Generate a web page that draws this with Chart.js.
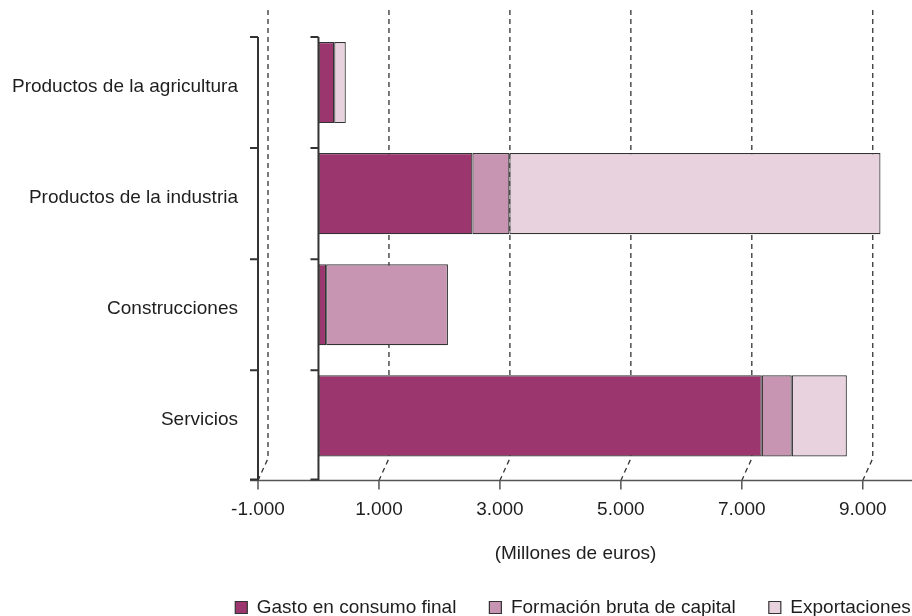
<!DOCTYPE html>
<html>
<head>
<meta charset="utf-8">
<title>Demanda final por productos</title>
<script src="https://cdn.jsdelivr.net/npm/chart.js@4.4.0/dist/chart.umd.min.js"></script>
<style>
    html, body { margin: 0; padding: 0; background: #fff; overflow: hidden; }
    #wrap { width: 1146px; height: 627px; }
</style>
</head>
<body>
<div id="wrap"><canvas id="chart" width="1146" height="627"></canvas></div>
<script>
// Data (millones de euros)
const categories = ['Productos de la agricultura', 'Productos de la industria', 'Construcciones', 'Servicios'];
const gastoConsumo = [260, 2545, 127, 7330];
const formacionCapital = [0, 612, 2014, 496];
const exportaciones = [192, 6136, 0, 911];
const xTicks = [-1000, 1000, 3000, 5000, 7000, 9000];
const xMin = -1000;
const xMax = 9500;

const FONT = 'Liberation Sans, Arial, Helvetica, sans-serif';
const INK = '#1e1e1e';

// 1.000 style thousands separator
function formatMiles(v) {
    const s = String(Math.abs(v)).replace(/\B(?=(\d{3})+(?!\d))/g, '.');
    return (v < 0 ? '-' : '') + s;
}

// Pseudo 3D frame: back grid lines, floor, side walls
const depthPlugin = {
    id: 'depth',
    beforeDatasetsDraw(chart) {
        const { ctx, chartArea, scales: { x } } = chart;
        const floor = chartArea.bottom + 9;
        const back = floor - 22;
        const top = chartArea.top - 17;
        ctx.save();
        ctx.strokeStyle = '#333';
        ctx.lineWidth = 1.3;
        ctx.setLineDash([5, 4]);
        xTicks.forEach(v => {
            const px = x.getPixelForValue(v);
            ctx.beginPath();
            ctx.moveTo(px + 10, top);
            ctx.lineTo(px + 10, back);
            ctx.lineTo(px, floor);
            ctx.stroke();
        });
        ctx.restore();
    },
    afterDatasetsDraw(chart) {
        const { ctx, chartArea, scales: { x, y } } = chart;
        const floor = chartArea.bottom + 9;
        const left = x.getPixelForValue(xMin);
        const zero = x.getPixelForValue(0);
        const bounds = [];
        for (let i = 0; i <= categories.length; i++) {
            bounds.push(Math.min(y.getPixelForValue(i - 0.5) + 10, floor - 1));
        }
        ctx.save();
        // floor line + ticks
        ctx.strokeStyle = '#555';
        ctx.lineWidth = 1.5;
        ctx.beginPath();
        ctx.moveTo(left - 8, floor);
        ctx.lineTo(chart.width, floor);
        xTicks.forEach(v => {
            const px = x.getPixelForValue(v);
            ctx.moveTo(px, floor);
            ctx.lineTo(px, floor + 9);
        });
        ctx.stroke();
        // two walls with category ticks
        ctx.strokeStyle = '#333';
        ctx.lineWidth = 2;
        [left, zero].forEach(px => {
            ctx.beginPath();
            ctx.moveTo(px, bounds[0]);
            ctx.lineTo(px, floor);
            bounds.forEach(by => {
                ctx.moveTo(px - 8, by);
                ctx.lineTo(px, by);
            });
            ctx.stroke();
        });
        ctx.restore();
    }
};

const barStyle = {
    borderColor: '#333',
    borderWidth: 1.2,
    borderSkipped: false,
    barPercentage: 0.73,
    categoryPercentage: 1
};

new Chart(document.getElementById('chart'), {
    type: 'bar',
    data: {
        labels: categories,
        datasets: [
            { label: 'Gasto en consumo final', data: gastoConsumo, backgroundColor: '#9b376e', ...barStyle },
            { label: 'Formación bruta de capital', data: formacionCapital, backgroundColor: '#c795b2', ...barStyle },
            { label: 'Exportaciones', data: exportaciones, backgroundColor: '#e8d2de', ...barStyle }
        ]
    },
    options: {
        indexAxis: 'y',
        responsive: false,
        animation: false,
        layout: { padding: { top: 27, left: 0, right: 0, bottom: 0 } },
        plugins: {
            legend: {
                position: 'bottom',
                labels: {
                    color: INK,
                    font: { size: 19, family: FONT },
                    boxWidth: 12,
                    boxHeight: 12,
                    padding: 33
                }
            },
            tooltip: { enabled: false }
        },
        scales: {
            x: {
                stacked: true,
                min: xMin,
                max: xMax,
                afterBuildTicks: s => { s.ticks = xTicks.map(v => ({ value: v })); },
                afterFit: s => { s.height = 93.6; },
                grid: { display: false, drawTicks: false },
                border: { display: false },
                ticks: {
                    color: INK,
                    font: { size: 19, family: FONT },
                    padding: 27,
                    maxRotation: 0,
                    callback: v => formatMiles(v)
                },
                title: {
                    display: true,
                    text: '(Millones de euros)',
                    color: INK,
                    font: { size: 19, family: FONT },
                    padding: { top: 21, bottom: 0 }
                }
            },
            y: {
                stacked: true,
                afterFit: s => {
                    s.width = 258;
                    s.paddingTop = 0;
                    s.paddingBottom = 0;
                },
                grid: { display: false, drawTicks: false },
                border: { display: false },
                ticks: {
                    color: INK,
                    font: { size: 19, family: FONT },
                    padding: 20,
                    labelOffset: 4
                }
            },
            yPad: {
                type: 'category',
                position: 'right',
                afterFit: s => { s.width = 253; },
                grid: { display: false, drawTicks: false },
                border: { display: false },
                ticks: { display: false }
            }
        }
    },
    plugins: [depthPlugin]
});
</script>
</body>
</html>
